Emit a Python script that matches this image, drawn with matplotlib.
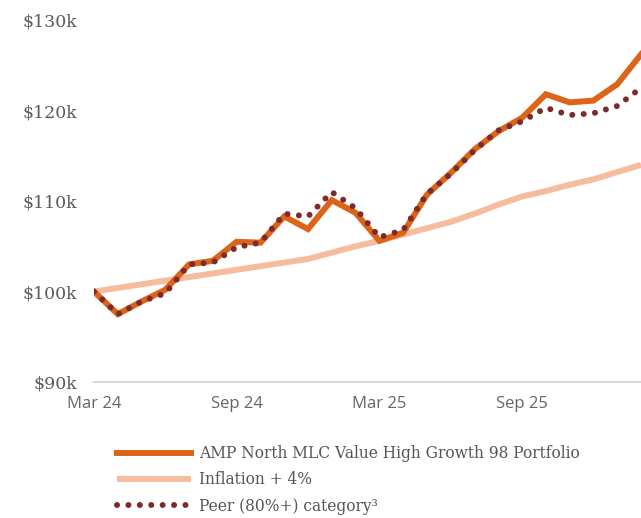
import numpy as np
import matplotlib
matplotlib.use("Agg")
import matplotlib.pyplot as plt

# Monthly values, Mar 24 to Feb 26, in $k
months = ["Mar 24", "Apr 24", "May 24", "Jun 24", "Jul 24", "Aug 24",
          "Sep 24", "Oct 24", "Nov 24", "Dec 24", "Jan 25", "Feb 25",
          "Mar 25", "Apr 25", "May 25", "Jun 25", "Jul 25", "Aug 25",
          "Sep 25", "Oct 25", "Nov 25", "Dec 25", "Jan 26", "Feb 26"]
portfolio = [100.0, 97.5, 98.9, 100.2, 103.0, 103.4, 105.5, 105.4, 108.3, 106.9,
             110.1, 108.7, 105.6, 106.5, 110.7, 113.1, 115.7, 117.7, 119.2, 121.8,
             120.9, 121.1, 122.9, 126.2]
inflation = [100.0, 100.4, 100.8, 101.2, 101.6, 102.0, 102.4, 102.8, 103.2, 103.6,
             104.3, 105.0, 105.6, 106.3, 107.0, 107.7, 108.6, 109.6, 110.5, 111.1,
             111.8, 112.4, 113.2, 114.0]
peer = [100.0, 97.5, 98.9, 99.8, 103.0, 103.2, 104.9, 105.4, 108.6, 108.3,
        111.0, 109.2, 106.0, 106.8, 110.8, 113.0, 115.6, 117.8, 118.8, 120.3,
        119.5, 119.7, 120.5, 122.5]
yticks = [90, 100, 110, 120, 130]
labels = ["AMP North MLC Value High Growth 98 Portfolio", "Inflation + 4%",
          "Peer (80%+) category³"]

serif = ["DejaVu Serif"]
sans = ["Open Sans", "DejaVu Sans"]

fig = plt.figure(figsize=(6.41, 5.18), dpi=100)
ax = fig.add_axes([0.1466, 0.2625, 0.8534, 0.6988])

x = np.arange(len(months))
ax.plot(x, inflation, color="#F5BD9D", lw=4.3, solid_capstyle="butt", label=labels[1], zorder=2)
ax.plot(x, portfolio, color="#DC6419", lw=4.3, solid_joinstyle="miter", label=labels[0], zorder=3)
ax.plot(x, peer, color="#7B2B2E", lw=4.3, linestyle=(0, (0.01, 1.9)),
        dash_capstyle="round", label=labels[2], zorder=4)

ax.set_xlim(0, len(months) - 1)
ax.set_ylim(90, 130)
ax.set_yticks(yticks)
ax.set_yticklabels(["$%dk" % v for v in yticks], family=serif, fontsize=12.5, color="#5a5a5a")
ax.set_xticks(x[::6])
ax.set_xticklabels(months[::6], family=sans, fontsize=12, color="#666666")
ax.tick_params(axis="both", length=0)
ax.tick_params(axis="y", pad=12)
ax.tick_params(axis="x", pad=10)
for s in ["top", "right", "left"]:
    ax.spines[s].set_visible(False)
ax.spines["bottom"].set_color("#d9d9d9")
ax.spines["bottom"].set_linewidth(1.5)

h, l = ax.get_legend_handles_labels()
order = [1, 0, 2]
leg = ax.legend([h[i] for i in order], [l[i] for i in order], loc="upper left",
                bbox_to_anchor=(0.160, 0.168), bbox_transform=fig.transFigure,
                frameon=False, handlelength=4.8, handletextpad=0.5,
                labelspacing=0.6, prop={"family": serif, "size": 11.2})
for t in leg.get_texts():
    t.set_color("#555555")

fig.savefig("out.png", dpi=100)
